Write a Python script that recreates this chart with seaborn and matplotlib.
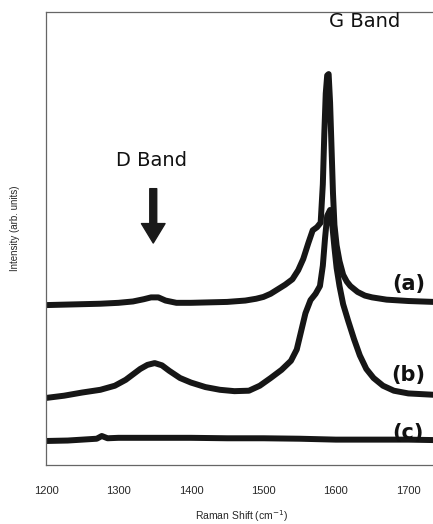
import pandas as pd
import matplotlib
matplotlib.use('Agg')
import matplotlib.pyplot as plt
import seaborn as sns

# Raman spectra, intensity in arbitrary units (curves already offset)
shift_a = [1200, 1225, 1250, 1275, 1300, 1320, 1335, 1345, 1355, 1365, 1380, 1400, 1425,
           1450, 1475, 1490, 1500, 1510, 1520, 1530, 1540, 1548, 1555, 1562, 1568, 1574,
           1579, 1582, 1584, 1586, 1588, 1590, 1592, 1594, 1596, 1598, 1601, 1605, 1610,
           1615, 1620, 1630, 1640, 1650, 1670, 1700, 1735]
int_a = [35.3, 35.4, 35.5, 35.6, 35.8, 36.1, 36.6, 37.0, 37.0, 36.3, 35.8, 35.8, 35.9,
         36.0, 36.3, 36.7, 37.1, 37.8, 38.8, 39.8, 41.0, 43.0, 45.5, 49.0, 51.8, 52.5,
         53.5, 62.0, 73.0, 82.0, 86.0, 86.3, 80.0, 70.0, 60.0, 53.0, 48.5, 45.0, 42.0,
         40.5, 39.5, 38.2, 37.4, 37.0, 36.5, 36.2, 36.0]

shift_b = [1200, 1225, 1250, 1275, 1295, 1310, 1320, 1330, 1340, 1350, 1360, 1370, 1385,
           1400, 1420, 1440, 1460, 1480, 1495, 1510, 1525, 1538, 1546, 1552, 1558, 1565,
           1572, 1578, 1582, 1585, 1588, 1592, 1595, 1598, 1601, 1605, 1610, 1617, 1625,
           1633, 1642, 1652, 1665, 1680, 1700, 1735]
int_b = [14.8, 15.3, 16.0, 16.6, 17.5, 18.8, 20.0, 21.2, 22.1, 22.5, 22.0, 20.8, 19.2,
         18.2, 17.2, 16.6, 16.3, 16.4, 17.5, 19.2, 21.0, 23.0, 25.5, 29.5, 33.5, 36.4,
         37.8, 39.5, 44.0, 50.0, 55.0, 56.3, 53.0, 48.0, 43.5, 39.5, 35.5, 31.8, 27.8,
         24.2, 21.2, 19.2, 17.5, 16.4, 15.8, 15.5]

shift_c = [1200, 1230, 1250, 1270, 1277, 1285, 1300, 1350, 1400, 1450, 1500, 1550, 1600,
           1650, 1700, 1735]
int_c = [5.3, 5.4, 5.6, 5.8, 6.4, 5.9, 6.0, 6.0, 6.0, 5.9, 5.9, 5.8, 5.6, 5.6, 5.6, 5.5]

curve_labels = ['(a)', '(b)', '(c)']
label_y = [40, 19.9, 7]
x_ticks = [1200, 1300, 1400, 1500, 1600, 1700]

sns.set_style('white')
plt.rcParams['font.family'] = ['DejaVu Sans']

fig = plt.figure(figsize=(4.33, 5.24), dpi=100)
ax = fig.add_axes([0.1062, 0.1126, 0.8938, 0.8645])

line_col = '#161616'
for xs, ys in [(shift_a, int_a), (shift_b, int_b), (shift_c, int_c)]:
    df = pd.DataFrame({'shift': xs, 'intensity': ys})
    sns.lineplot(data=df, x='shift', y='intensity', ax=ax, color=line_col,
                 linewidth=4.3, solid_capstyle='round', solid_joinstyle='round')

ax.set_xlim(1200, 1734)
ax.set_ylim(0, 100)
ax.set_xticks(x_ticks)
ax.set_yticks([])
ax.tick_params(axis='x', direction='in', length=3, width=0.8, color='#555555',
               pad=15, labelsize=8, labelfontfamily='Liberation Sans')

for side in ['left', 'bottom', 'top']:
    ax.spines[side].set_color('#666666')
    ax.spines[side].set_linewidth(0.9)
ax.spines['right'].set_visible(False)

ax.set_xlabel('Raman Shift (cm$^{-1}$)', fontsize=7.5, family='Liberation Sans')
ax.xaxis.set_label_coords(0.506, -0.095)
ax.set_ylabel('Intensity (arb. units)', fontsize=7, family='Liberation Sans')
ax.yaxis.set_label_coords(-0.066, 0.523)

ax.text(1640, 98, 'G Band', fontsize=14, ha='center', va='center', color='#111111')
ax.text(1346, 67.3, 'D Band', fontsize=14, ha='center', va='center', color='#111111')
ax.annotate('', xy=(1348, 49), xytext=(1348, 61),
            arrowprops=dict(width=5, headwidth=17, headlength=14, shrink=0,
                            color='#1a1a1a'))

for lab, yy in zip(curve_labels, label_y):
    ax.text(1700, yy, lab, fontsize=15, fontweight='bold', ha='center', va='center',
            color='#111111')

plt.savefig('out.png', dpi=100)
plt.close(fig)
